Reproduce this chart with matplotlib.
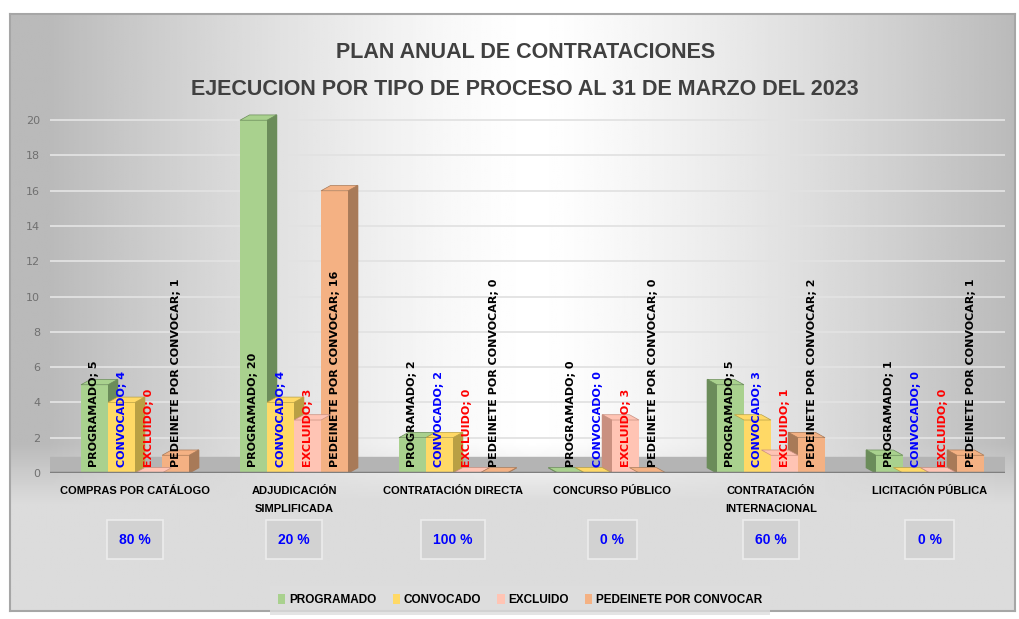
import numpy as np
import matplotlib
matplotlib.use("Agg")
import matplotlib.pyplot as plt
from matplotlib.patches import Polygon

# datos
categorias = ["COMPRAS POR CATÁLOGO", "ADJUDICACIÓN\nSIMPLIFICADA", "CONTRATACIÓN DIRECTA",
              "CONCURSO PÚBLICO", "CONTRATACIÓN\nINTERNACIONAL", "LICITACIÓN PÚBLICA"]
programado = [5, 20, 2, 0, 5, 1]
convocado = [4, 4, 2, 0, 3, 0]
excluido = [0, 3, 0, 3, 1, 0]
pendiente = [1, 16, 0, 0, 2, 1]
porcentajes = ["80 %", "20 %", "100 %", "0 %", "60 %", "0 %"]

series = [("PROGRAMADO", programado), ("CONVOCADO", convocado),
          ("EXCLUIDO", excluido), ("PEDEINETE POR CONVOCAR", pendiente)]
colores = ["#a9d18e", "#ffd966", "#ffc4b4", "#f4b183"]
lados = ["#6b8c5a", "#b9a044", "#c99080", "#a87a58"]
col_texto = ["black", "blue", "red", "black"]

arial = ["Liberation Sans", "DejaVu Sans"]

fig = plt.figure(figsize=(10.2, 6.19), dpi=100)
fig.patch.set_facecolor("white")

# fondo con degradado
bg = fig.add_axes([0.010, 0.013, 0.985, 0.965])
xx = np.linspace(0, 1, 400)
yy = np.linspace(0, 1, 300)
X, Y = np.meshgrid(xx, yy)
h = 1 - 0.27 * np.clip(np.abs(X - 0.52) / 0.48, 0, 1) ** 1.3
low = np.clip((Y - 0.72) / 0.1, 0, 1)
val = h * (1 - low) + 0.86 * low
bg.imshow(val, cmap="gray", vmin=0, vmax=1, aspect="auto", extent=[0, 1, 1, 0])
bg.set_xlim(0, 1)
bg.set_ylim(1, 0)
bg.set_xticks([])
bg.set_yticks([])
for s in bg.spines.values():
    s.set_color("#a6a6a6")
    s.set_linewidth(1.5)

ax = fig.add_axes([0.049, 0.236, 0.936, 0.594])
ax.patch.set_alpha(0)
x = np.arange(len(categorias))
w = 0.17
dx, dy = 0.06, 0.3

ax.axhspan(0, 0.9, color="#b4b4b4", zorder=1)
ax.axhline(0, color="#7f7f7f", lw=2.5, zorder=6)

for i, (nombre, vals) in enumerate(series):
    xs = x + (i - 1.5) * w
    ax.bar(xs, vals, width=w, color=colores[i], label=nombre, zorder=3)
    for j, (xc, v) in enumerate(zip(xs, vals)):
        xl = xc - w / 2
        lado = 1 if j < 3 else -1
        if lado == 1:
            side = [(xl + w, 0), (xl + w, v), (xl + w + dx, v + dy), (xl + w + dx, dy)]
            top = [(xl, v), (xl + w, v), (xl + w + dx, v + dy), (xl + dx, v + dy)]
        else:
            side = [(xl, 0), (xl, v), (xl - dx, v + dy), (xl - dx, dy)]
            top = [(xl, v), (xl + w, v), (xl + w - dx, v + dy), (xl - dx, v + dy)]
        ax.add_patch(Polygon(side, closed=True, color=lados[i], zorder=2.9))
        ax.add_patch(Polygon(top, closed=True, color=colores[i], ec=lados[i], lw=0.5, zorder=3.1))
        ax.text(xc, 0.35, f"{nombre}; {v}", rotation=90, ha="center", va="bottom",
                fontsize=8, fontweight="bold", color=col_texto[i], zorder=7)

ax.set_xlim(-0.535, 5.47)
ax.set_ylim(0, 20.85)
ax.set_yticks(range(0, 21, 2))
ax.tick_params(axis="y", length=0, labelsize=8, labelcolor="#707070", pad=7)
ax.set_xticks([])
ax.grid(axis="y", color="#e2e2e2", lw=1.3, zorder=0)
ax.set_axisbelow(True)
for s in ax.spines.values():
    s.set_visible(False)

for j, c in enumerate(categorias):
    ax.text(x[j], -0.75, c, ha="center", va="top", fontsize=8, fontweight="bold",
            family=arial, linespacing=2.0)
    ax.text(x[j], -3.8, porcentajes[j], ha="center", va="center", fontsize=10,
            fontweight="bold", color="blue", family=arial,
            bbox=dict(boxstyle="square,pad=0.9", fc="#d2d2d2", ec="#ececec", lw=1.2))

fig.text(0.515, 0.915, "PLAN ANUAL DE CONTRATACIONES", ha="center", va="center",
         fontsize=15.5, fontweight="bold", color="#404040", family=arial)
fig.text(0.515, 0.855, "EJECUCION POR TIPO DE PROCESO AL 31 DE MARZO DEL 2023", ha="center",
         va="center", fontsize=15.5, fontweight="bold", color="#404040", family=arial)

leg = fig.legend(loc="center", bbox_to_anchor=(0.51, 0.03), ncol=4, frameon=True,
                 prop={"family": arial, "weight": "bold", "size": 8.5},
                 handlelength=0.6, handleheight=0.9, columnspacing=1.4, handletextpad=0.3,
                 fancybox=False, borderpad=0.7)
leg.get_frame().set_facecolor("#dedede")
leg.get_frame().set_edgecolor("none")

fig.savefig("out.png", dpi=100)
